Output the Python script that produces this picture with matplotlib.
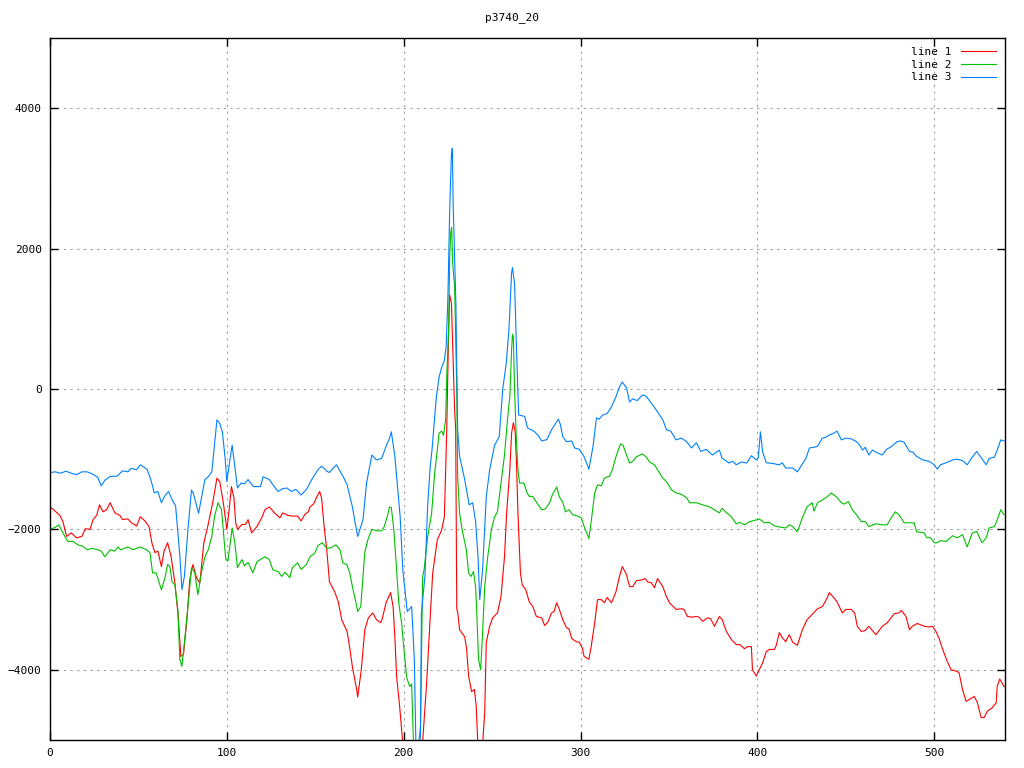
import matplotlib
matplotlib.use("Agg")
import matplotlib.pyplot as plt

# line 1 (red)
x1 = [0, 2, 4, 5.6, 7.3, 9.4, 12, 15, 18, 20, 22.6, 24.4, 26.4, 28, 30, 32, 34, 36.7, 39.5, 41, 44, 46, 49, 51,
      53.7, 56, 57.6, 59.3, 61, 63, 64.5, 66.5, 68.5, 70.6, 72.5, 74, 75.5, 77.4, 79, 80.8, 83, 84.7, 87, 89, 92,
      94.4, 96, 98, 100, 101.3, 102.6, 104, 105, 106, 108.5, 110.5, 112, 114, 117, 120, 121.5, 124, 127, 130,
      131.6, 134.5, 137, 140, 142, 144, 146, 147, 149, 151, 152.5, 153.6, 155, 156.5, 158, 161, 163, 165, 168,
      169.5, 171, 173.4, 174, 176, 178, 180, 182.5, 184.7, 187, 188, 190, 192.6, 194, 195, 196, 197.7, 198.8,
      200, 204, 208, 210.5, 213, 214.7, 216.4, 219, 221.5, 223, 224.3, 225.4, 226, 227, 228, 228.8, 229.4, 230,
      230.5, 231.6, 234.5, 235.6, 236.7, 238.4, 240, 241, 242, 244, 245.8, 246.7, 248.6, 250.3, 253, 255, 257,
      258.2, 260, 261, 262, 263, 263.7, 264.6, 266, 267, 269, 271, 273, 275, 278, 279.7, 281.5, 283.6, 285,
      286.5, 288, 290, 292, 293.5, 295, 297.7, 299.4, 301, 302, 304.7, 306, 308, 309.6, 311.7, 313.5, 315,
      317.5, 320, 322, 323.6, 326, 327.7, 329.5, 331.6, 334.5, 336.5, 338, 340, 341.8, 343.5, 346.5, 348.6,
      350.3, 354, 357, 358.5, 360.4, 363, 365.5, 367, 369, 371.8, 373.5, 375.7, 378.5, 380, 382.5, 385.3, 388,
      390, 392.7, 394.4, 396.6, 397.2, 399.4, 401, 403, 405, 406.8, 409.6, 410.7, 412.4, 414, 416, 418, 420,
      422.6, 425.4, 428, 431, 434, 436.7, 439, 440.7, 442.4, 445, 448, 450, 453, 455, 456.5, 458.8, 461, 463,
      467, 470.6, 473.4, 477.4, 480, 481.4, 484, 486, 487.6, 490.4, 494.4, 497, 499, 501, 503, 504.5, 507.3,
      509.6, 512.4, 514, 516, 518, 520, 522.6, 524.3, 526.5, 528.2, 530, 532.8, 535, 535.6, 537, 539.5]
y1 = [-1680, -1720, -1765, -1800, -1890, -2100, -2050, -2120, -2100, -1990, -2000, -1860, -1800, -1650, -1750,
      -1720, -1620, -1765, -1800, -1860, -1850, -1905, -1950, -1820, -1880, -1960, -2190, -2330, -2310, -2530,
      -2310, -2190, -2390, -2760, -3240, -3810, -3780, -3290, -2720, -2500, -2700, -2760, -2190, -1980, -1620,
      -1270, -1320, -1620, -2000, -1720, -1390, -1550, -1905, -2000, -1930, -1930, -1860, -2050, -1960, -1820,
      -1720, -1680, -1765, -1835, -1765, -1800, -1810, -1810, -1880, -1790, -1750, -1680, -1640, -1530, -1460,
      -1560, -1960, -2290, -2745, -2890, -3030, -3290, -3455, -3690, -3960, -4280, -4390, -4000, -3430, -3260,
      -3190, -3290, -3330, -3260, -3045, -2900, -3100, -3530, -4100, -4520, -4850, -5200, -5600, -5500, -5100,
      -4180, -3380, -2620, -2150, -2005, -1820, -630, 840, 1340, 1220, 370, -300, -580, -3140, -3170, -3430,
      -3530, -3710, -4090, -4310, -4280, -4520, -5100, -5300, -4610, -3610, -3380, -3260, -3190, -2960, -2390,
      -1765, -1150, -630, -480, -600, -1000, -1765, -2620, -2790, -2860, -3030, -3100, -3240, -3260, -3370,
      -3320, -3190, -3170, -3045, -3140, -3290, -3400, -3420, -3555, -3600, -3610, -3690, -3810, -3850, -3670,
      -3330, -3000, -3000, -3045, -2970, -3045, -2890, -2670, -2530, -2645, -2815, -2815, -2730, -2720, -2700,
      -2750, -2760, -2830, -2700, -2815, -2960, -3045, -3140, -3130, -3140, -3240, -3250, -3240, -3250, -3310,
      -3260, -3270, -3380, -3240, -3280, -3455, -3570, -3640, -3640, -3700, -3670, -3670, -4000, -4090, -4000,
      -3900, -3740, -3710, -3710, -3650, -3470, -3540, -3600, -3500, -3610, -3650, -3430, -3290, -3210, -3130,
      -3100, -3000, -2900, -2950, -3030, -3190, -3140, -3140, -3190, -3380, -3455, -3440, -3380, -3500, -3380,
      -3330, -3200, -3190, -3155, -3240, -3430, -3380, -3340, -3380, -3390, -3380, -3455, -3570, -3690, -3880,
      -4000, -4020, -4040, -4280, -4450, -4420, -4380, -4460, -4680, -4680, -4590, -4540, -4470, -4240, -4130,
      -4240]

# line 2 (green)
x2 = [0, 3, 5, 7.3, 10, 13, 15.8, 18.6, 21, 24, 27, 29, 31, 34, 36.7, 38.4, 40, 44, 47, 51, 54.6, 56.5, 58, 60,
      63, 65, 66.5, 67.8, 69, 70.6, 72.3, 73.4, 74.6, 76, 78, 80, 81.9, 83.6, 85.6, 87.6, 89.5, 91.5, 93, 95, 97,
      99.4, 100.6, 103, 104.5, 106, 108.5, 110, 112, 114.7, 117, 121.5, 124, 126, 129, 131, 133, 135.6, 137, 140,
      142, 145, 147, 149.7, 151.5, 154, 156.5, 159, 161.6, 164, 165.5, 167.8, 169.5, 171, 172.9, 174, 175.7,
      177, 178, 179.7, 182, 184.7, 187.6, 189, 191, 192, 193, 194.4, 196, 197.2, 198.8, 200, 201.7, 203.4,
      204.5, 205.6, 207.5, 209.5, 210.7, 211.5, 213.6, 215.8, 217.5, 219, 220, 221.5, 222.5, 223.7, 224.4,
      225.4, 226, 226.6, 227.1, 227.7, 228.8, 229.4, 230, 230.5, 231.6, 233, 235.4, 236.7, 238, 239.5, 240.7,
      241.4, 242.3, 243.5, 244.5, 245.8, 247.5, 249.6, 251.4, 253, 255, 257, 258.2, 258.8, 260, 261, 261.5,
      262, 262.7, 263.7, 264.6, 265.5, 268, 269.5, 271, 273, 275, 278, 280, 282.5, 284, 286.5, 288, 290,
      291.5, 293.5, 295.5, 298.3, 300.5, 302, 303.5, 304.7, 306, 308, 309.6, 311.7, 313.5, 316.4, 318, 320,
      322.6, 324, 326, 327.7, 329.5, 331.6, 335, 337, 339, 341.8, 343.5, 346.5, 348.6, 351.4, 354, 357, 360,
      361.6, 365.5, 369, 373, 375.7, 378.5, 380, 382.5, 385.3, 388, 390, 392.7, 395.5, 399.4, 401, 404, 406.8,
      409.6, 412.4, 416, 418, 420, 422.6, 425.4, 428, 431, 432, 434, 436.7, 439.5, 441.8, 444.6, 447.5, 449,
      451.4, 453.7, 456, 458.8, 461, 463, 467, 470.6, 473.4, 475.6, 478, 480, 483, 486, 488.7, 490, 494, 496,
      498, 500, 501.7, 503.5, 506.8, 510.4, 513, 516, 518.6, 521.5, 524, 527, 529.4, 531, 534, 535.6, 537.6,
      539.5]
y2 = [-2000, -1970, -1935, -2050, -2170, -2170, -2220, -2240, -2290, -2270, -2290, -2310, -2390, -2290, -2310,
      -2250, -2290, -2250, -2290, -2250, -2290, -2330, -2620, -2620, -2860, -2690, -2500, -2530, -2745, -2790,
      -3140, -3850, -3950, -3610, -3100, -2545, -2620, -2930, -2620, -2390, -2290, -2100, -1820, -1620, -1720,
      -2430, -2450, -1980, -2190, -2545, -2430, -2520, -2470, -2620, -2460, -2390, -2430, -2575, -2600, -2670,
      -2610, -2690, -2545, -2475, -2570, -2500, -2390, -2340, -2230, -2190, -2270, -2260, -2220, -2290, -2475,
      -2500, -2620, -2815, -3030, -3170, -3100, -2670, -2330, -2150, -2000, -2020, -2020, -1960, -1790, -1680,
      -1690, -2000, -2580, -3045, -3330, -3670, -4110, -4240, -4200, -5100, -5300, -4800, -2670, -2580, -2100,
      -1765, -1200, -870, -630, -600, -660, -440, 230, 840, 1880, 2230, 2300, 1790, 1450, 700, -15, -1250,
      -1765, -2000, -2290, -2620, -2670, -2600, -2830, -3240, -3850, -4000, -3530, -2815, -2390, -2000, -1820,
      -1750, -1340, -940, -580, -400, -110, 555, 780, 740, -15, -725, -1150, -1340, -1340, -1465, -1530, -1530,
      -1610, -1720, -1710, -1620, -1510, -1395, -1535, -1620, -1750, -1720, -1790, -1810, -1835, -1960, -2050,
      -2130, -1890, -1480, -1365, -1380, -1270, -1240, -1150, -965, -780, -800, -940, -1055, -1030, -965, -925,
      -965, -1040, -1080, -1150, -1270, -1320, -1435, -1480, -1500, -1550, -1620, -1620, -1650, -1680, -1720,
      -1765, -1700, -1760, -1820, -1920, -1900, -1935, -1890, -1865, -1850, -1905, -1900, -1950, -1965, -1980,
      -1935, -1960, -2035, -1835, -1680, -1620, -1740, -1620, -1580, -1535, -1480, -1535, -1620, -1640, -1605,
      -1720, -1790, -1890, -1890, -1960, -1920, -1935, -1935, -1835, -1750, -1790, -1905, -1905, -1910, -2035,
      -2045, -2120, -2120, -2190, -2190, -2160, -2170, -2090, -2120, -2075, -2250, -2050, -2030, -2190, -2120,
      -1980, -1960, -1865, -1720, -1790]

# line 3 (blue)
x3 = [0, 3, 6, 9, 12, 15, 18, 21, 24, 27, 29, 31, 34, 38, 41, 44, 46, 49, 51, 53, 55, 57, 59, 61, 63, 65, 67,
      69.5, 71, 72, 73.5, 74.6, 76, 78, 80, 81, 84, 86, 87.6, 89.5, 91.5, 93, 94.4, 96, 97.5, 99, 100, 101.5,
      103, 104.5, 106, 108, 110, 112, 115, 119, 120.5, 124, 126.5, 129, 131.5, 134, 136.5, 139, 142, 145, 148,
      151.5, 153.5, 155, 156.5, 158, 160, 162, 164, 166, 168, 171, 172.5, 174, 177, 179, 182, 184.5, 187.5,
      190, 192, 193, 195, 198, 199.5, 202, 204.5, 206, 207, 208.5, 209.5, 210, 212, 213.5, 215, 216, 217.5,
      218.5, 220, 221.5, 223, 224, 225, 226, 227, 227.5, 228, 229.5, 230, 230.5, 231.6, 234.5, 237, 239, 240.7,
      242, 243, 244.6, 246.7, 248.6, 251.4, 254, 256, 258, 259.5, 261, 261.5, 262.7, 263.8, 265, 268.4, 270,
      272, 274, 276, 278, 281, 283.6, 286.4, 287.5, 288.5, 290, 292, 295, 296.6, 299.4, 302, 304.7, 307, 309,
      310.5, 312.5, 315, 317.5, 320, 322, 323.6, 326, 327.7, 329.5, 332, 335, 337, 340, 343.5, 346.5, 348.6,
      351, 354, 357, 360, 362.7, 365.5, 368, 371, 374.6, 378.5, 380, 384, 386, 388, 391, 394, 396.6, 399.4,
      400.5, 401.7, 403, 405, 408.5, 412.4, 414, 416, 420, 422.6, 424.6, 427.5, 429.4, 432, 434, 436.7, 438.5,
      440.7, 443.5, 445, 447.5, 450, 453, 456, 457.6, 459.5, 461, 463, 465, 467, 470.6, 473, 475.5, 479, 481,
      483, 486, 488, 490, 493.4, 497, 500, 501.7, 503.5, 506.8, 510.4, 513, 516, 518.6, 521.5, 524, 526,
      529.4, 531, 534, 535.6, 537.6, 539.5]
y3 = [-1190, -1180, -1200, -1170, -1200, -1220, -1180, -1180, -1210, -1260, -1380, -1300, -1247, -1240, -1166,
      -1180, -1130, -1150, -1080, -1110, -1150, -1290, -1480, -1460, -1620, -1520, -1460, -1600, -1660, -1960,
      -2400, -2860, -2670, -2000, -1440, -1480, -1770, -1500, -1290, -1250, -1180, -800, -440, -490, -620, -980,
      -1320, -1050, -800, -1100, -1410, -1340, -1350, -1290, -1390, -1390, -1250, -1290, -1380, -1460, -1420,
      -1410, -1460, -1430, -1510, -1430, -1290, -1150, -1100, -1130, -1170, -1190, -1130, -1080, -1170, -1260,
      -1365, -1680, -1900, -2100, -1860, -1340, -940, -1010, -990, -820, -700, -610, -960, -1820, -2580, -3170,
      -3100, -3850, -5200, -5400, -4900, -3200, -2670, -1680, -1100, -870, -400, -110, 170, 310, 410, 600, 1310,
      2550, 3350, 3430, 2600, 1220, 270, -580, -960, -1290, -1650, -1620, -1900, -2390, -3000, -2580, -1530,
      -1150, -800, -680, 0, 370, 840, 1650, 1730, 1500, 555, -370, -390, -555, -580, -610, -660, -740, -720,
      -580, -470, -430, -500, -680, -750, -740, -840, -860, -965, -1140, -825, -410, -430, -370, -350, -255,
      -110, 30, 100, 15, -185, -140, -165, -85, -100, -200, -325, -440, -580, -600, -725, -700, -750, -840,
      -765, -890, -860, -940, -870, -985, -1055, -1030, -1080, -1040, -1055, -950, -1010, -980, -610, -900,
      -1050, -1060, -1080, -1050, -1125, -1125, -1180, -1100, -985, -840, -830, -815, -700, -690, -655, -625,
      -600, -725, -700, -710, -750, -790, -870, -830, -940, -870, -900, -940, -860, -825, -750, -740, -760,
      -890, -900, -960, -1010, -1030, -1080, -1140, -1080, -1050, -1010, -1000, -1020, -1080, -970, -890, -960,
      -1080, -990, -970, -870, -725, -740]

title = "p3740_20"
labels = ["line 1", "line 2", "line 3"]
colors = ["#ff0000", "#00c000", "#0080ff"]

plt.rcParams['font.family'] = ['DejaVu Sans Mono']

fig = plt.figure(figsize=(10.24, 7.68), dpi=100)
ax = fig.add_axes([50 / 1024, 28 / 768, 955 / 1024, 702 / 768])

ax.plot(x1, y1, color=colors[0], lw=0.8, label=labels[0])
ax.plot(x2, y2, color=colors[1], lw=0.8, label=labels[1])
ax.plot(x3, y3, color=colors[2], lw=0.8, label=labels[2])

ax.set_xlim(0, 540)
ax.set_ylim(-5000, 5000)
ax.set_xticks([0, 100, 200, 300, 400, 500])
ax.set_yticks([-4000, -2000, 0, 2000, 4000])
ax.grid(True, color="#a0a0a0", linestyle=(0, (2, 4)), linewidth=0.8)
ax.tick_params(direction="in", top=True, right=True, length=6, width=1, labelsize=8, pad=6)
for s in ax.spines.values():
    s.set_linewidth(1.0)

fig.text(0.5, 1 - 18 / 768, title, ha="center", va="center", fontsize=8)

leg = ax.legend(loc="upper right", frameon=False, markerfirst=False, fontsize=8,
                handlelength=3.2, handletextpad=0.8, labelspacing=0.25, borderaxespad=0.4)

fig.savefig("out.png", dpi=100)
